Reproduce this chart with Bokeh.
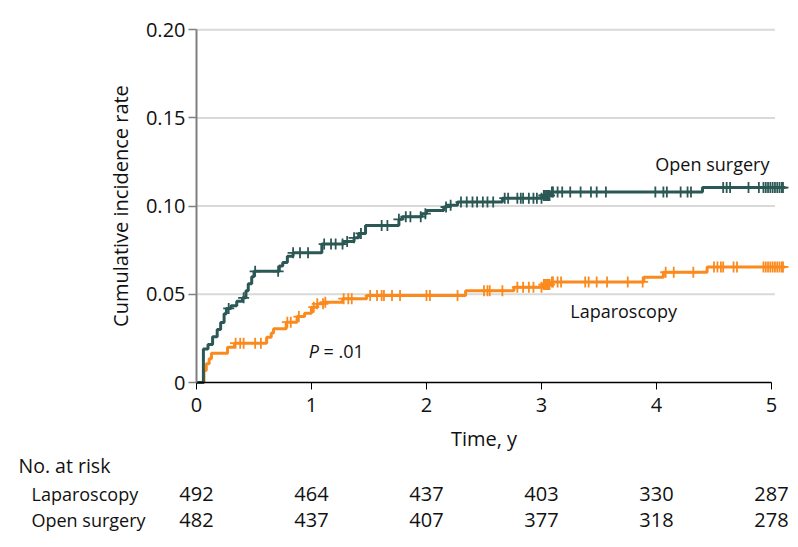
import numpy as np
from bokeh.plotting import figure
from bokeh.models import Range1d, FixedTicker, CustomJSTickFormatter
from bokeh.core.properties import value
from bokeh.embed import file_html
from bokeh.resources import INLINE

# ---------------- data ----------------
open_t = [0.06, 0.10, 0.14, 0.18, 0.21, 0.24, 0.26, 0.30, 0.35, 0.40, 0.43, 0.45, 0.48, 0.50,
          0.72, 0.75, 0.79, 0.84, 1.09, 1.28, 1.37, 1.41, 1.47, 1.76, 1.79, 1.96, 2.00, 2.15,
          2.18, 2.27, 2.66, 3.01, 3.08, 4.40]
open_cif = [0.019, 0.0215, 0.026, 0.030, 0.034, 0.039, 0.042, 0.0435, 0.046, 0.048, 0.052, 0.056,
            0.060, 0.063, 0.066, 0.068, 0.0715, 0.0735, 0.0785, 0.080, 0.082, 0.0845, 0.089,
            0.0925, 0.094, 0.0957, 0.0975, 0.0995, 0.1005, 0.1023, 0.1045, 0.106, 0.108, 0.1105]
lap_t = [0.065, 0.085, 0.11, 0.13, 0.27, 0.33, 0.61, 0.65, 0.67, 0.78, 0.875, 0.94, 1.00, 1.05,
         1.11, 1.27, 1.48, 2.34, 2.76, 3.01, 3.08, 3.89, 4.06, 4.44]
lap_cif = [0.0068, 0.0106, 0.0134, 0.0166, 0.020, 0.0223, 0.0257, 0.028, 0.0304, 0.0342, 0.0374,
           0.0393, 0.0427, 0.0446, 0.0455, 0.0475, 0.0493, 0.052, 0.054, 0.0555, 0.057, 0.0597,
           0.0625, 0.0655]
follow_end = 5.12

open_censor_t = [0.28, 0.41, 0.51, 0.71, 0.84, 0.90, 0.97, 1.11, 1.17, 1.21, 1.27, 1.31, 1.37, 1.43,
                 1.61, 1.66, 1.76, 1.82, 1.86, 1.95, 1.99, 2.17, 2.21, 2.30, 2.35, 2.40, 2.44, 2.49,
                 2.53, 2.58, 2.68, 2.71, 2.79, 2.82, 2.84, 2.89, 2.93, 2.96, 3.00, 3.02, 3.03, 3.04,
                 3.05, 3.06, 3.07, 3.09, 3.10, 3.14, 3.18, 3.25, 3.34, 3.43, 3.48, 3.56, 3.99, 4.06,
                 4.09, 4.21, 4.27, 4.30, 4.58, 4.61, 4.64, 4.80, 4.89, 4.93, 4.95, 4.97, 4.99, 5.01,
                 5.03, 5.05, 5.07, 5.09, 5.10]
lap_censor_t = [0.34, 0.38, 0.41, 0.51, 0.56, 0.79, 0.82, 0.89, 1.02, 1.05, 1.10, 1.12, 1.28, 1.32,
                1.35, 1.51, 1.57, 1.61, 1.63, 1.70, 1.77, 2.00, 2.03, 2.27, 2.50, 2.53, 2.55, 2.66,
                2.79, 2.84, 2.89, 2.93, 3.00, 3.02, 3.03, 3.04, 3.05, 3.06, 3.07, 3.09, 3.10, 3.14,
                3.17, 3.38, 3.41, 3.48, 3.57, 3.75, 3.88, 4.08, 4.15, 4.32, 4.50, 4.53, 4.56, 4.58,
                4.67, 4.70, 4.93, 4.95, 4.97, 4.99, 5.01, 5.03, 5.05, 5.07, 5.09, 5.10]

risk_times = [0, 1, 2, 3, 4, 5]
lap_at_risk = [492, 464, 437, 403, 330, 287]
open_at_risk = [482, 437, 407, 377, 318, 278]
group_names = ["Laparoscopy", "Open surgery"]
table_header = "No. at risk"

x_ticks = [0, 1, 2, 3, 4, 5]
y_ticks = [0, 0.05, 0.10, 0.15, 0.20]

OPEN_COLOR = "#2b5855"
LAP_COLOR = "#fb8a1e"
TEXT_COLOR = "#111111"
FONT = "Open Sans"
FS = "18px"
FS_HEAD = "19.5px"
FS_NUM = "20px"

# canvas geometry (pixels)
W, H = 790, 538
X0_PX, PX_PER_YEAR = 196, 115.0        # where t=0 sits, pixels per year
Y0_PX, PX_PER_UNIT = 382, 1764.0       # where rate=0 sits, pixels per unit rate


def px_to_t(px):
    return (px - X0_PX) / PX_PER_YEAR


def px_to_rate(py):
    return (Y0_PX - py) / PX_PER_UNIT


def curve(evt, cif):
    return [0.0] + list(evt) + [follow_end], [0.0] + list(cif) + [cif[-1]]


def cif_at(times, evt, cif):
    idx = np.searchsorted(np.array(evt), np.array(times), side="right") - 1
    c = np.array(cif)
    return np.where(idx >= 0, c[np.clip(idx, 0, None)], 0.0)


p = figure(width=W, height=H,
           x_range=Range1d(px_to_t(0), px_to_t(W)),
           y_range=Range1d(px_to_rate(H), px_to_rate(0)),
           toolbar_location=None, output_backend="svg", min_border=0)
p.outline_line_color = None
p.xgrid.visible = False
p.ygrid.visible = False

# gridlines
gy = y_ticks[1:]
p.segment(x0=[0] * len(gy), x1=[5.03] * len(gy), y0=gy, y1=gy, line_color="#d9d9d9", line_width=2)

ox, oy = curve(open_t, open_cif)
lx, ly = curve(lap_t, lap_cif)
p.step(lx, ly, mode="after", line_color=LAP_COLOR, line_width=3)
p.step(ox, oy, mode="after", line_color=OPEN_COLOR, line_width=3)
p.scatter(lap_censor_t, cif_at(lap_censor_t, lap_t, lap_cif), marker="cross", size=11,
          line_color=LAP_COLOR, line_width=1.8)
p.scatter(open_censor_t, cif_at(open_censor_t, open_t, open_cif), marker="cross", size=11,
          line_color=OPEN_COLOR, line_width=1.8)

p.text(x=[3.99], y=[0.124], text=["Open surgery"], text_font=value(FONT), text_font_size=FS,
       text_align="left", text_baseline="middle", text_color=TEXT_COLOR)
p.text(x=[3.25], y=[0.0408], text=["Laparoscopy"], text_font=value(FONT), text_font_size=FS,
       text_align="left", text_baseline="middle", text_color=TEXT_COLOR)
p.text(x=[0.975], y=[0.018], text=["P"], text_font=value(FONT), text_font_size=FS,
       text_font_style="italic", text_align="left", text_baseline="middle", text_color=TEXT_COLOR)
p.text(x=[1.105], y=[0.018], text=["= .01"], text_font=value(FONT), text_font_size=FS,
       text_align="left", text_baseline="middle", text_color=TEXT_COLOR)

# axes (anchored at the data origin)
xa = p.xaxis[0]
xa.fixed_location = 0
xa.ticker = FixedTicker(ticks=x_ticks)
xa.bounds = (0, 5)
xa.axis_label = "Time, y"
xa.axis_line_color = "black"
xa.axis_line_width = 1.3
xa.major_tick_line_color = "black"
xa.major_tick_out = 7
xa.major_tick_in = 0
xa.minor_tick_line_color = None
xa.major_label_standoff = 8
xa.axis_label_standoff = 10

ya = p.yaxis[0]
ya.fixed_location = 0
ya.ticker = FixedTicker(ticks=y_ticks)
ya.formatter = CustomJSTickFormatter(code="return tick == 0 ? '0' : tick.toFixed(2);")
ya.bounds = (0, 0.2)
ya.axis_label = "Cumulative incidence rate"
ya.axis_line_color = "#808080"
ya.axis_line_width = 2
ya.major_tick_line_color = "#808080"
ya.major_tick_line_width = 1.5
ya.major_tick_out = 8
ya.major_tick_in = 0
ya.minor_tick_line_color = None
ya.major_label_standoff = 3
ya.axis_label_standoff = 9

for ax in (xa, ya):
    ax.major_label_text_font = FONT
    ax.major_label_text_font_size = FS_NUM
    ax.major_label_text_color = TEXT_COLOR
    ax.axis_label_text_font = FONT
    ax.axis_label_text_font_size = FS_NUM
    ax.axis_label_text_font_style = "normal"
    ax.axis_label_text_color = TEXT_COLOR

# ---------------- number at risk table ----------------
row_y = [px_to_rate(v) for v in (465, 493, 519)]
head_x = px_to_t(18)
name_x = px_to_t(31)

p.text(x=[head_x], y=[row_y[0]], text=[table_header], text_font=value(FONT),
       text_font_size=FS_HEAD, text_align="left", text_baseline="middle", text_color=TEXT_COLOR)
p.text(x=[name_x, name_x], y=row_y[1:], text=group_names, text_font=value(FONT),
       text_font_size=FS, text_align="left", text_baseline="middle", text_color=TEXT_COLOR)
for counts, ry in zip((lap_at_risk, open_at_risk), row_y[1:]):
    p.text(x=risk_times, y=[ry] * len(risk_times), text=[str(n) for n in counts],
           text_font=value(FONT), text_font_size=FS_NUM, text_align="center",
           text_baseline="middle", text_color=TEXT_COLOR)

open("out.html", "w").write(file_html(p, INLINE))
